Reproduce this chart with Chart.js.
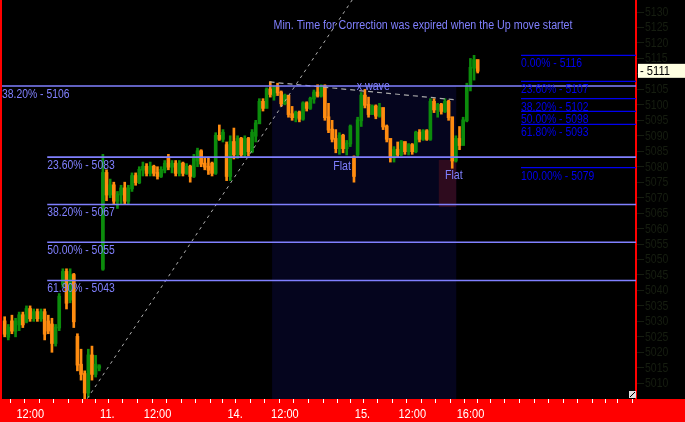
<!DOCTYPE html>
<html><head><meta charset="utf-8">
<script src="https://cdn.jsdelivr.net/npm/chart.js@4/dist/chart.umd.min.js"></script>
<style>html,body{margin:0;padding:0;background:#000;overflow:hidden}</style>
</head><body><canvas id="c" width="685" height="422"></canvas>
<script>
// ---- data (15-minute OHLC bars, first bar in slot 8 = day 10, 11:00) ----
const FIRST_SLOT = 8;
const opens = [5030,5025,5030,5027,5029,5032,5030,5034,5031,5033,5031,5033,5030,5029,5023,5028,5042,5046,5037,5045,5025,5016,5013,5007,5019,5013,5015,
5047,5078,5071,5074,5069,5071,5073,5069,5073,5077,5075,5079,5080,5078,5080,5078,5077,5079,5083,5080,5081,5078,5081,5078,5080,5077,5082,5085,5081,5080,5081,5078,5090,5089,5087,
5077,5088,5084,5089,5084,5089,5085,5090,5094,5101,5099,5105,5103,5106,5104,5100.5,5103,5097,5096,5097.5,5095.5,5100.5,5099,5102,5104,5103,5106,5096,5092,5089,5086,5090,5086,5087.5,5083,
5084,5095,5103,5100,5097,5099.5,5096.5,5099,5093,5089,5083,5085.5,5084,5088,5085,5087,5085,5091,5089,5091.5,5089,5101,5098.5,5100,5098,5101,5096,5082,5089,5087,5095,5106,5112,5114.5];
const highs = [5031.5,5029,5032,5031,5033,5033,5035,5035,5034,5034,5034,5034,5032,5031,5029,5039,5047,5047,5047,5045.5,5026,5021,5014,5021,5022,5019,5016,
5084,5079,5076,5075,5072,5074,5075,5074,5078,5078,5080,5081.5,5081,5081.5,5080.5,5080,5080,5082,5084,5082,5082,5082,5081.5,5081,5080.5,5084,5086,5085.5,5083,5083,5081.5,5091,5093.5,5092,5088,
5090,5092.5,5090,5089.5,5090,5089.5,5092,5095,5102,5102,5105.5,5107.5,5106,5107,5104.5,5103.5,5103,5099.5,5098,5098,5101,5101,5102.5,5104.8,5106.5,5106.5,5106.5,5100.5,5095,5092,5091,5090.5,5088.5,5093.5,5083.5,
5096,5104,5105,5102.5,5100,5100,5100.5,5099,5093.5,5089,5086.5,5088,5088.5,5088,5087.5,5087.5,5091.5,5092,5092,5092,5102,5102,5100.5,5100.5,5102,5101.5,5096,5090,5093,5096,5107,5115,5116,5114.5];
const lows = [5025,5024,5026,5025,5027,5028,5029.5,5030,5030,5030,5030,5024,5026,5020,5022,5027,5041,5034,5036,5028,5014,5011,5005,5005.5,5011,5012,5014,
5046.5,5069,5070,5068,5066.5,5068,5068,5068,5072,5074,5074.5,5077,5077,5077,5077,5076,5076.5,5078,5079,5078,5077,5077,5077,5077.5,5075,5076.5,5080,5080,5079,5077.5,5077,5077.5,5088.5,5088,5075.5,
5075.5,5082.5,5082.7,5083,5083,5083.5,5084.5,5088,5094,5098,5099,5102.5,5101.5,5103,5099.5,5100,5096,5095,5094.5,5094.5,5095,5098,5098.5,5100.5,5102.5,5102.5,5095,5091,5088,5084.5,5084,5084.5,5083.8,5086.5,5075,
5083,5093,5099,5096,5097,5095.5,5096,5092,5088,5081.5,5081.5,5083,5083.5,5084,5083.8,5084,5084.5,5088,5088.5,5088.5,5088.5,5097.5,5096,5097,5097.5,5095,5079.5,5081.5,5085.5,5087,5094.5,5104.5,5108,5110.3];
const closes = [5026,5028,5027,5030,5032,5029,5034,5031,5033,5031,5033,5026,5027,5023,5028,5038,5046,5036,5045,5030,5016,5013,5007,5019,5013,5016,5015.5,
5078,5071,5074,5069,5071,5073,5069,5073,5077,5075,5079,5080,5078,5080,5078,5077,5079,5081,5080,5081,5078,5081,5078,5080,5077,5083,5085,5081,5080,5079,5078,5090,5089,5091,5077,
5088,5084,5089,5084,5089,5085,5091,5094,5101,5099,5105,5103.5,5105.5,5104,5100.5,5103,5097,5096,5097.5,5095.5,5100.5,5099,5102,5104,5103,5106,5096,5092,5089,5086,5090,5086,5087.5,5093,5077,
5095,5103,5100,5097,5099.5,5096.5,5099,5093,5089,5083,5085.5,5084,5088,5085,5087,5085,5091,5089,5091.5,5089,5101,5098.5,5100,5098,5101,5096,5082,5089,5087,5095,5106,5112,5114.5,5111];

// axis ticks
const yTicks = [5130,5125,5120,5115,5110,5105,5100,5095,5090,5085,5080,5075,5070,5065,5060,5055,5050,5045,5040,5035,5030,5025,5020,5015,5010];
const dayStartSlots = [0,35,70,105,140,175];
const xTickSlots = [12,35,47,70,82,105,117,133];
const xTickTexts = ['12:00','11.','12:00','14.','12:00','15.','12:00','16:00'];
const X_MIN = 7.5, X_MAX = 182;
const Y_MIN = 5004.9, Y_MAX = 5133.9;

// fibonacci levels
const fibLeftLevels = [5106.1,5083.1,5067.8,5055.6,5043.2];
const fibLeftStart = [7.5,20.2,20.2,20.2,20.2];
const fibLeftLabels = ['38.20% - 5106','23.60% - 5083','38.20% - 5067','50.00% - 5055','61.80% - 5043'];
const fibRightLevels = [5116.0,5107.6,5102.0,5097.9,5093.7,5079.7];
const fibRightStart = 150.4;
const fibRightLabels = ['0.00% - 5116','23.60% - 5107','38.20% - 5102','50.00% - 5098','61.80% - 5093','100.00% - 5079'];

// annotations
const trendSlots = [31.2,104.0], trendPrices = [5005.0,5133.9];
const waveSlots = [81.3,132.6], wavePrices = [5107.4,5101.6];
const zoneSlots = [82.0,132.6], zoneTopPrice = 5106.1;
const flatZoneSlots = [127.8,132.6], flatZonePrices = [5082.2,5067.0];
const noteTexts = ['Min. Time for Correction was expired when the Up move startet','x wave','Flat','Flat'];
const noteSlots = [82.4,109.8,98.8,129.5];
const notePrices = [5125.5,5106.1,5080.2,5077.1];
const lastPrice = 5111;

const FONT = '"Liberation Sans", Arial, sans-serif';
const GREEN = '#0c8c0c', ORANGE = '#ff8c10';
const LIGHT = '#8080ff', DARK = '#0000f0';
const YLAB = '#161d10';

const slots = opens.map((_, i) => FIRST_SLOT + i + 0.5);
const barColors = opens.map((o, i) => closes[i] >= o ? GREEN : ORANGE);

const hourSlots = [];
dayStartSlots.forEach(d => { for (let h = 0; h <= 8; h++) { const v = d + 4 * h; if (v >= X_MIN && v <= X_MAX) hourSlots.push(v); } });

const datasets = [];
datasets.push({type:'bar', order:2, grouped:false, barThickness:2,
  data: slots.map((s, i) => ({x: s, y: [lows[i], highs[i]]})), backgroundColor: barColors});
datasets.push({type:'bar', order:2, grouped:false, barThickness:3,
  data: slots.map((s, i) => ({x: s, y: [Math.min(opens[i], closes[i]) - 0.15, Math.max(opens[i], closes[i]) + 0.15]})), backgroundColor: barColors});
fibLeftLevels.forEach((lv, i) => datasets.push({type:'line', order:0, data:[{x: fibLeftStart[i], y: lv},{x: X_MAX, y: lv}],
  borderColor: LIGHT, borderWidth: 1.6, pointRadius: 0}));
fibRightLevels.forEach(lv => datasets.push({type:'line', order:0, data:[{x: fibRightStart, y: lv},{x: X_MAX, y: lv}],
  borderColor: DARK, borderWidth: 1.2, pointRadius: 0}));
datasets.push({type:'line', order:1, data: trendSlots.map((s, i) => ({x: s, y: trendPrices[i]})),
  borderColor: '#b0b0b0', borderWidth: 1, borderDash: [3,4], pointRadius: 0});
datasets.push({type:'line', order:1, data: waveSlots.map((s, i) => ({x: s, y: wavePrices[i]})),
  borderColor: '#a8a8a8', borderWidth: 1.2, borderDash: [5,4], pointRadius: 0});

// narrow text: horizontally compressed Liberation Sans (Arial-Narrow look)
function narrowText(ctx, text, x, y, size, color, align, sx) {
  sx = sx || 0.8;
  ctx.save();
  ctx.font = size + 'px ' + FONT;
  ctx.fillStyle = color;
  ctx.textBaseline = 'middle';
  ctx.textAlign = 'left';
  const w = ctx.measureText(text).width * sx;
  let left = x;
  if (align === 'center') left = x - w / 2;
  else if (align === 'right') left = x - w;
  ctx.translate(left, y);
  ctx.scale(sx, 1);
  ctx.fillText(text, 0, 0);
  ctx.restore();
}

const decor = {
  id: 'decor',
  beforeDraw(chart) {
    const {ctx, width, height, chartArea: a} = chart;
    ctx.save();
    ctx.fillStyle = '#000'; ctx.fillRect(0, 0, width, height);
    ctx.fillStyle = '#ff0000'; ctx.fillRect(0, a.bottom, width, height - a.bottom);
    ctx.restore();
  },
  beforeDatasetsDraw(chart) {
    const {ctx, chartArea: a, scales: {x, y}} = chart;
    ctx.save();
    ctx.beginPath(); ctx.rect(a.left, a.top, a.width, a.height); ctx.clip();
    const x0 = x.getPixelForValue(zoneSlots[0]), x1 = x.getPixelForValue(zoneSlots[1]);
    const yt = y.getPixelForValue(zoneTopPrice);
    ctx.fillStyle = '#05051e';
    ctx.fillRect(x0, yt, x1 - x0, a.bottom - yt);
    const fx0 = x.getPixelForValue(flatZoneSlots[0]), fx1 = x.getPixelForValue(flatZoneSlots[1]);
    const fy0 = y.getPixelForValue(flatZonePrices[0]), fy1 = y.getPixelForValue(flatZonePrices[1]);
    ctx.fillStyle = '#2e0b1e';
    ctx.fillRect(fx0, fy0, fx1 - fx0, fy1 - fy0);
    ctx.restore();
  },
  afterDatasetsDraw(chart) {
    const {ctx, scales: {x, y}} = chart;
    fibLeftLevels.forEach((lv, i) => {
      const px = i === 0 ? 2 : x.getPixelForValue(fibLeftStart[i]);
      narrowText(ctx, fibLeftLabels[i], px, y.getPixelForValue(lv) + 8.5, 12.5, LIGHT, 'left', 0.83);
    });
    fibRightLevels.forEach((lv, i) => {
      narrowText(ctx, fibRightLabels[i], x.getPixelForValue(fibRightStart), y.getPixelForValue(lv) + 8.5, 12.5, DARK, 'left', 0.83);
    });
    noteTexts.forEach((t, i) => {
      narrowText(ctx, t, x.getPixelForValue(noteSlots[i]), y.getPixelForValue(notePrices[i]),
        i === 0 ? 12.5 : 13, LIGHT, i === 1 ? 'center' : 'left', i === 0 ? 0.855 : 0.82);
    });
  },
  afterDraw(chart) {
    const {ctx, chartArea: a, width, scales: {x, y}} = chart;
    // axis tick labels placed at the axes' own tick positions
    x.ticks.forEach(t => {
      const k = xTickSlots.indexOf(t.value);
      if (k >= 0) narrowText(ctx, xTickTexts[k], x.getPixelForValue(t.value) - 1, a.bottom + 15.5, 13, '#ffffff', 'left', 0.85);
    });
    y.ticks.forEach(t => {
      narrowText(ctx, String(t.value), a.right + 9, y.getPixelForValue(t.value) + 0.5, 12.5, YLAB, 'left', 0.84);
    });
    ctx.save();
    ctx.fillStyle = '#ff0000';
    ctx.fillRect(0, 0, 2, a.bottom);
    const py = y.getPixelForValue(lastPrice);
    ctx.fillStyle = '#ffffe1';
    ctx.fillRect(a.right + 2, py - 7, width - a.right - 2, 14);
    ctx.restore();
    narrowText(ctx, '- ' + lastPrice, a.right + 4, py + 0.5, 13, '#000000', 'left', 0.86);
    ctx.save();
    ctx.fillStyle = '#e0e0e0';
    ctx.fillRect(a.right - 7, a.bottom - 8, 7, 7);
    ctx.strokeStyle = '#000'; ctx.lineWidth = 1;
    ctx.beginPath(); ctx.moveTo(a.right - 6, a.bottom - 2); ctx.lineTo(a.right - 1, a.bottom - 7); ctx.stroke();
    ctx.restore();
  }
};

new Chart(document.getElementById('c'), {
  type: 'bar',
  data: {datasets},
  options: {
    responsive: false, animation: false, devicePixelRatio: 1,
    layout: {padding: {left: 1, top: 0, right: 0, bottom: 0}},
    plugins: {legend: {display: false}, tooltip: {enabled: false}},
    scales: {
      x: {
        type: 'linear', position: 'bottom', min: X_MIN, max: X_MAX, offset: false,
        afterBuildTicks: s => { s.ticks = hourSlots.map(v => ({value: v})); },
        afterFit: s => { s.height = 23; s.paddingLeft = 0; s.paddingRight = 0; },
        grid: {drawOnChartArea: false, drawTicks: true, tickLength: 4, tickColor: '#ffffff', tickWidth: 1},
        border: {display: false},
        ticks: {display: false, autoSkip: false}
      },
      y: {
        type: 'linear', position: 'right', min: Y_MIN, max: Y_MAX,
        afterBuildTicks: s => { s.ticks = yTicks.map(v => ({value: v})); },
        afterFit: s => { s.width = 49; s.paddingTop = 0; s.paddingBottom = 0; },
        grid: {drawOnChartArea: false, drawTicks: true, tickLength: 8, tickColor: YLAB},
        border: {display: true, color: '#ff0000', width: 2},
        ticks: {display: false, autoSkip: false}
      }
    }
  },
  plugins: [decor]
});
</script></body></html>
